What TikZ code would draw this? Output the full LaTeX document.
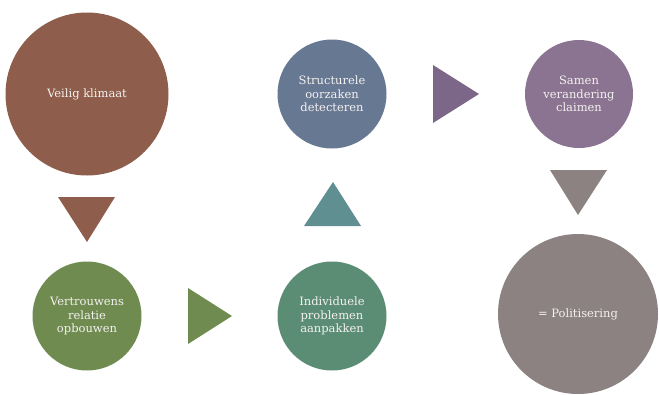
\documentclass[tikz,border=0pt]{standalone}
\usepackage{fontspec}
\setmainfont{DejaVu Serif}
\definecolor{bruin}{HTML}{8E5D4B}
\definecolor{groen}{HTML}{6F8B50}
\definecolor{zeegroen}{HTML}{5B8D74}
\definecolor{petrol}{HTML}{5F8F90}
\definecolor{leiblauw}{HTML}{677893}
\definecolor{paars}{HTML}{7D6789}
\definecolor{lila}{HTML}{8B7491}
\definecolor{grijs}{HTML}{8C8282}
\definecolor{tekst}{HTML}{F4F1F0}
\begin{document}
\begin{tikzpicture}[x=1pt,y=-1pt]

	\tikzset{
	  bol/.style={
		circle,
		inner sep=0pt,
		text=tekst,
		align=center,
		font=\fontsize{11.5}{13.5}\selectfont,
	  },
	}
	\useasboundingbox (0,0) rectangle (659,394);
	% stappen
	\node[bol,fill=bruin,minimum size=163pt] (veilig) at (87,94) {Veilig klimaat};
	\node[bol,fill=groen,minimum size=109pt] (vertrouwen) at (87,316) {Vertrouwens\\relatie\\opbouwen};
	\node[bol,fill=zeegroen,minimum size=109pt] (individueel) at (332,316) {Individuele\\problemen\\aanpakken};
	\node[bol,fill=leiblauw,minimum size=109pt] (structureel) at (332,94) {Structurele\\oorzaken\\detecteren};
	\node[bol,fill=lila,minimum size=108pt] (samen) at (579,94) {Samen\\verandering\\claimen};
	\node[bol,fill=grijs,minimum size=160pt] (politisering) at (578,314) {= Politisering};
	% driehoeken
	\fill[bruin] (58,197)--(115,197)--(87,242)--cycle;
	\fill[groen] (188,288)--(188,344)--(232,316)--cycle;
	\fill[petrol] (304,226)--(361,226)--(333,182)--cycle;
	\fill[paars] (433,65)--(433,123)--(479,94)--cycle;
	\fill[grijs] (550,170)--(607,170)--(578,215)--cycle;

\end{tikzpicture}
\end{document}
